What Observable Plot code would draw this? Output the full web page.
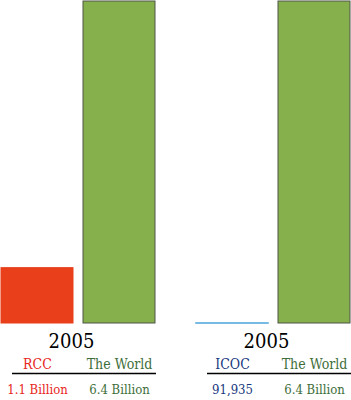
<!DOCTYPE html>
<html>
<head>
<meta charset="utf-8">
<script src="https://cdn.jsdelivr.net/npm/d3@7"></script>
<script src="https://cdn.jsdelivr.net/npm/@observablehq/plot@0.6"></script>
<style>
  html, body { margin: 0; padding: 0; background: #fff; }
  #chart svg { display: block; }
  #chart svg .serif text { font-family: "DejaVu Serif Condensed", "DejaVu Serif" !important; font-stretch: condensed; }
</style>
</head>
<body>
<div id="chart"></div>
<script>
// ---- data ----
const panels = ["RCC", "ICOC"];
const years = ["2005", "2005"];
const names = ["RCC", "The World", "ICOC", "The World"];
const panelOf = ["RCC", "RCC", "ICOC", "ICOC"];
const slots = ["group", "world", "group", "world"];
const populations = [1.1e9, 6.4e9, 91935, 6.4e9];
const valueLabels = ["1.1 Billion", "6.4 Billion", "91,935", "6.4 Billion"];

const rows = names.map((n, i) => ({
  name: n, panel: panelOf[i], slot: slots[i], pop: populations[i], label: valueLabels[i]
}));
const yearRows = panels.map((p, i) => ({panel: p, year: years[i]}));

// ---- styles ----
const barFill = {"RCC": "#e93f1a", "ICOC": "#4ea4dc", "The World": "#86b04c"};
const barStroke = {"RCC": "#e93f1a", "ICOC": "#4ea4dc", "The World": "#4f5548"};
const textFill = {"RCC": "#e8261c", "ICOC": "#18387e", "The World": "#3e6e3a"};

const chart = Plot.plot({
  width: 351,
  height: 400,
  marginTop: 1,
  marginBottom: 77,
  marginLeft: 1,
  marginRight: 1,
  fx: {domain: panels, paddingInner: 0.2103, paddingOuter: 0, round: false, axis: null, label: null},
  x: {domain: ["group", "world"], paddingInner: 0.122, paddingOuter: 0, round: false, axis: null, label: null},
  y: {domain: [0, 6.4e9], axis: null, label: null},
  marks: [
    Plot.barY(rows, {
      fx: "panel", x: "slot", y: "pop",
      fill: d => barFill[d.name],
      stroke: d => barStroke[d.name],
      strokeWidth: d => d.name === "ICOC" ? 1.5 : 1
    }),
    Plot.text(yearRows, {
      fx: "panel", text: "year",
      frameAnchor: "bottom", lineAnchor: "bottom",
      dy: 24, dx: -7,
      fontSize: 20, fill: "#000", className: "serif"
    }),
    Plot.text(rows, {
      fx: "panel", x: "slot", text: "name",
      frameAnchor: "bottom", lineAnchor: "bottom",
      dy: 45,
      fontSize: 14, className: "serif",
      fill: d => textFill[d.name]
    }),
    Plot.ruleY([0], {dy: 50, dx: 11, insetRight: 10, stroke: "#000", strokeWidth: 1.6}),
    Plot.text(rows, {
      fx: "panel", x: "slot", text: "label",
      frameAnchor: "bottom", lineAnchor: "bottom",
      dy: 70,
      fontSize: 13, className: "serif",
      fill: d => textFill[d.name]
    })
  ]
});
document.getElementById("chart").append(chart);
</script>
</body>
</html>
